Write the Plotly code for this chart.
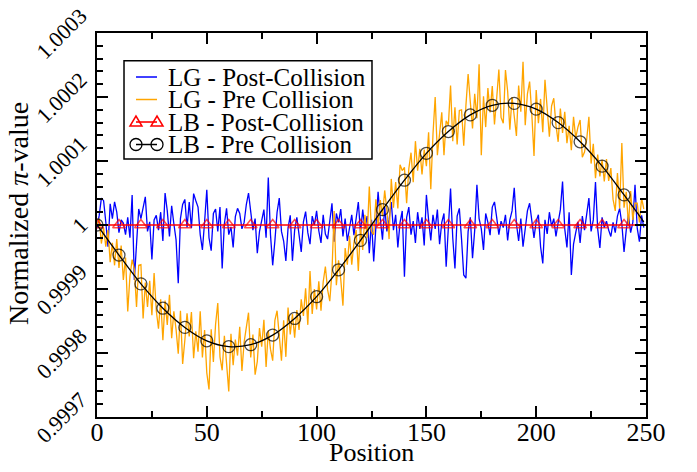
import plotly.graph_objects as go

# ---------------- data ----------------
POSITIONS = list(range(250))

LG_POST = [
    0.999995, 1.000015, 1.000042, 1.000038, 1.000005, 0.999966, 1.000033, 1.000010, 1.000036, 1.000020,
    0.999988, 1.000008, 1.000003, 0.999985, 1.000012, 0.999980, 1.000047, 0.999914, 0.999970, 1.000025,
    1.000010, 1.000028, 1.000044, 0.999990, 1.000005, 0.999946, 1.000008, 1.000015, 0.999992, 1.000020,
    0.999975, 1.000050, 1.000022, 0.999982, 1.000030, 1.000002, 0.999977, 0.999909, 1.000010, 1.000032,
    1.000040, 0.999996, 1.000036, 0.999995, 1.000049, 1.000038, 1.000028, 0.999985, 0.999961, 1.000005,
    1.000055, 0.999980, 0.999960, 1.000018, 1.000025, 0.999990, 1.000028, 0.999932, 1.000002, 1.000026,
    0.999985, 0.999997, 0.999965, 1.000013, 1.000026, 1.000018, 0.999994, 1.000004, 1.000032, 1.000050,
    1.000021, 0.999992, 1.000010, 0.999956, 0.999990, 1.000006, 1.000024, 0.999980, 1.000074, 0.999985,
    0.999937, 0.999975, 1.000020, 1.000042, 0.999990, 0.999975, 0.999944, 0.999995, 1.000015, 0.999944,
    0.999992, 1.000012, 0.999982, 0.999958, 1.000005, 1.000021, 0.999988, 0.999970, 1.000014, 1.000000,
    1.000022, 0.999991, 0.999972, 1.000016, 0.999986, 0.999978, 1.000006, 1.000034, 0.999974, 1.000018,
    1.000004, 1.000025, 0.999982, 1.000010, 0.999975, 0.999995, 1.000016, 0.999984, 1.000008, 1.000036,
    0.999988, 1.000024, 0.999994, 1.000014, 0.999956, 1.000008, 0.999943, 1.000005, 1.000052, 1.000010,
    0.999977, 1.000028, 0.999990, 1.000008, 1.000036, 0.999992, 1.000016, 0.999965, 1.000004, 1.000022,
    0.999919, 1.000012, 1.000028, 0.999985, 1.000006, 0.999972, 1.000020, 0.999994, 1.000012, 0.999968,
    1.000047, 1.000008, 0.999976, 1.000016, 0.999994, 1.000024, 0.999970, 1.000004, 1.000018, 0.999935,
    1.000006, 1.000057, 0.999980, 0.999932, 1.000014, 1.000026, 0.999978, 0.999922, 0.999917, 0.999990,
    1.000012, 0.999948, 0.999992, 1.000063, 1.000010, 0.999994, 0.999961, 1.000018, 1.000004, 0.999984,
    1.000028, 1.000036, 1.000012, 0.999985, 1.000006, 0.999996, 1.000016, 0.999976, 1.000008, 1.000022,
    1.000058, 1.000002, 0.999975, 1.000010, 0.999966, 0.999990, 1.000022, 1.000034, 1.000010, 0.999980,
    1.000006, 1.000016, 0.999966, 0.999940, 1.000008, 0.999986, 1.000020, 0.999998, 1.000010, 0.999982,
    1.000004, 1.000024, 1.000068, 0.999994, 0.999965, 1.000020, 0.999922, 0.999970, 0.999988, 1.000005,
    0.999972, 1.000014, 0.999992, 1.000020, 1.000042, 0.999990, 1.000008, 1.000067, 0.999994, 0.999964,
    1.000012, 0.999996, 1.000006, 0.999992, 0.999982, 1.000004, 0.999988, 1.000014, 1.000026, 1.000002,
    0.999958, 0.999992, 1.000016, 0.999988, 1.000004, 1.000063, 0.999995, 0.999974, 1.000015, 0.999996,
]

LG_PRE = [
    1.000000, 1.000010, 0.999971, 0.999996, 0.999966, 0.999992, 0.999942, 0.999972, 0.999937, 0.999978,
    0.999933, 0.999968, 0.999914, 0.999949, 0.999865, 0.999920, 0.999946, 0.999931, 0.999872, 0.999937,
    0.999938, 0.999854, 0.999910, 0.999872, 0.999913, 0.999859, 0.999925, 0.999866, 0.999838, 0.999884,
    0.999820, 0.999882, 0.999844, 0.999891, 0.999823, 0.999865, 0.999837, 0.999799, 0.999866, 0.999783,
    0.999820, 0.999862, 0.999826, 0.999864, 0.999792, 0.999834, 0.999802, 0.999865, 0.999793, 0.999836,
    0.999769, 0.999743, 0.999837, 0.999786, 0.999845, 0.999878, 0.999794, 0.999773, 0.999827, 0.999781,
    0.999740, 0.999830, 0.999781, 0.999821, 0.999796, 0.999841, 0.999772, 0.999817, 0.999837, 0.999863,
    0.999793, 0.999829, 0.999766, 0.999787, 0.999839, 0.999810, 0.999852, 0.999778, 0.999835, 0.999806,
    0.999788, 0.999851, 0.999866, 0.999826, 0.999788, 0.999851, 0.999794, 0.999871, 0.999829, 0.999861,
    0.999824, 0.999867, 0.999836, 0.999884, 0.999858, 0.999901, 0.999844, 0.999928, 0.999861, 0.999900,
    0.999868, 0.999912, 0.999866, 0.999911, 0.999935, 0.999899, 0.999881, 0.999927, 1.000022, 0.999906,
    0.999945, 0.999915, 0.999874, 0.999964, 0.999938, 0.999983, 0.999938, 0.999972, 0.999992, 0.999928,
    0.999996, 0.999961, 1.000016, 0.999980, 1.000060, 0.999990, 0.999985, 1.000040, 0.999999, 1.000039,
    1.000014, 1.000054, 1.000023, 0.999978, 1.000072, 1.000027, 1.000067, 1.000026, 1.000094, 1.000085,
    1.000090, 1.000034, 1.000088, 1.000113, 1.000067, 1.000131, 1.000085, 1.000119, 1.000079, 1.000118,
    1.000092, 1.000145, 1.000056, 1.000142, 1.000200, 1.000109, 1.000145, 1.000176, 1.000109, 1.000163,
    1.000156, 1.000218, 1.000131, 1.000184, 1.000126, 1.000179, 1.000180, 1.000124, 1.000187, 1.000236,
    1.000192, 1.000151, 1.000205, 1.000167, 1.000251, 1.000109, 1.000201, 1.000153, 1.000214, 1.000176,
    1.000217, 1.000157, 1.000198, 1.000243, 1.000168, 1.000159, 1.000242, 1.000209, 1.000149, 1.000200,
    1.000170, 1.000139, 1.000218, 1.000177, 1.000255, 1.000156, 1.000205, 1.000224, 1.000173, 1.000108,
    1.000211, 1.000159, 1.000197, 1.000145, 1.000227, 1.000181, 1.000138, 1.000186, 1.000198, 1.000156,
    1.000130, 1.000182, 1.000144, 1.000177, 1.000128, 1.000155, 1.000117, 1.000169, 1.000136, 1.000153,
    1.000164, 1.000106, 1.000114, 1.000134, 1.000169, 1.000096, 1.000127, 1.000073, 1.000110, 1.000076,
    1.000102, 1.000068, 1.000103, 1.000069, 1.000089, 1.000040, 1.000022, 1.000081, 1.000026, 1.000128,
    1.000027, 1.000052, 1.000000, 1.000053, 1.000008, 1.000034, 1.000034, 1.000004, 1.000042, 1.000025,
]

LB_X = [0, 10, 20, 30, 40, 50, 60, 70, 80, 90, 100, 110, 120, 130, 140, 150, 160, 170,
        180, 190, 200, 210, 220, 230, 240, 249]
LB_POST = [1.0] * 26
LB_PRE = [1.000000, 0.999953, 0.999908, 0.999870, 0.999840, 0.999819, 0.999810, 0.999813,
          0.999828, 0.999854, 0.999888, 0.999930, 0.999976, 1.000024, 1.000070, 1.000112,
          1.000146, 1.000172, 1.000187, 1.000190, 1.000181, 1.000160, 1.000130, 1.000092,
          1.000047, 1.000005]

X_TICKS = [0, 50, 100, 150, 200, 250]
Y_TICKS = [0.9997, 0.9998, 0.9999, 1.0, 1.0001, 1.0002, 1.0003]
Y_TICK_TEXT = ["0.9997", "0.9998", "0.9999", "1", "1.0001", "1.0002", "1.0003"]

SERIES_NAMES = ["LG - Post-Collision", "LG - Pre Collision", "LB - Post-Collision", "LB - Pre Collision"]
COLORS = ["#0000ff", "#ffa500", "#ff0000", "#000000"]

FONT = "Liberation Serif, Times New Roman, serif"

# ---------------- figure ----------------
fig = go.Figure()

fig.add_trace(go.Scatter(x=POSITIONS, y=LG_POST, mode="lines", name=SERIES_NAMES[0],
                         line=dict(color=COLORS[0], width=1.3), showlegend=False))
fig.add_trace(go.Scatter(x=POSITIONS, y=LG_PRE, mode="lines", name=SERIES_NAMES[1],
                         line=dict(color=COLORS[1], width=1.3), showlegend=False))

marker_sizes_tri = [11] * (len(LB_X) - 1) + [0]
marker_sizes_circ = [12] * (len(LB_X) - 1) + [0]

fig.add_trace(go.Scatter(x=LB_X, y=LB_POST, mode="lines+markers", name=SERIES_NAMES[2],
                         line=dict(color=COLORS[2], width=1.6),
                         marker=dict(symbol="triangle-up-open", size=marker_sizes_tri,
                                     color=COLORS[2], line=dict(width=1.5, color=COLORS[2])),
                         showlegend=False))
fig.add_trace(go.Scatter(x=LB_X, y=LB_PRE, mode="lines+markers", name=SERIES_NAMES[3],
                         line=dict(color=COLORS[3], width=1.3, shape="spline"),
                         marker=dict(symbol="circle-open", size=marker_sizes_circ,
                                     color=COLORS[3], line=dict(width=1.3, color=COLORS[3])),
                         showlegend=False))

axis_common = dict(
    showline=True, linecolor="black", linewidth=2, mirror="ticks",
    ticks="inside", ticklen=11, tickwidth=1.5, tickcolor="black",
    showgrid=False, zeroline=False,
)

fig.update_xaxes(range=[0, 250], tickvals=X_TICKS,
                 tickfont=dict(family=FONT, size=26, color="black"),
                 ticklabelstandoff=-9,
                 minor=dict(dtick=25, tick0=0, ticks="inside", ticklen=6, tickwidth=1.5,
                            tickcolor="black", showgrid=False),
                 **axis_common)
fig.update_yaxes(range=[0.9997, 1.0003], tickvals=Y_TICKS, showticklabels=False,
                 minor=dict(dtick=0.00002, tick0=0.9997, ticks="inside", ticklen=6, tickwidth=1.5,
                            tickcolor="black", showgrid=False),
                 **axis_common)

annotations = []
# rotated y tick labels
for v, t in zip(Y_TICKS, Y_TICK_TEXT):
    annotations.append(dict(x=-0.004, xref="paper", y=v, yref="y", text=t, showarrow=False,
                            textangle=-45, xanchor="right", yanchor="middle",
                            font=dict(family=FONT, size=22, color="black")))
# axis titles
annotations.append(dict(x=0.5, xref="paper", y=-0.093, yref="paper", text="Position",
                        showarrow=False, xanchor="center", yanchor="middle",
                        font=dict(family=FONT, size=26, color="black")))
annotations.append(dict(x=-0.143, xref="paper", y=0.53, yref="paper", text="Normalized <i>π</i>-value",
                        showarrow=False, textangle=-90, xanchor="center", yanchor="middle",
                        font=dict(family=FONT, size=28, color="black")))

# manual legend
row_y = [0.8854, 0.8268, 0.7682, 0.7096]
lx0, lx1 = 0.0710, 0.1093
shapes = [dict(type="rect", xref="paper", yref="paper", x0=0.0492, x1=0.5009, y0=0.6719, y1=0.9279,
               line=dict(color="black", width=1.5), fillcolor="white", layer="above")]
for i, (name, col) in enumerate(zip(SERIES_NAMES, COLORS)):
    shapes.append(dict(type="line", xref="paper", yref="paper", x0=lx0, x1=lx1, y0=row_y[i], y1=row_y[i],
                       line=dict(color=col, width=1.5 if i != 2 else 1.6), layer="above"))
    annotations.append(dict(x=0.126, xref="paper", y=row_y[i], yref="paper", text=name, showarrow=False,
                            xanchor="left", yanchor="middle",
                            font=dict(family=FONT, size=25, color="black")))
for xa in (lx0, lx1):
    shapes.append(dict(type="path", xref="paper", yref="paper", xsizemode="pixel", ysizemode="pixel",
                       xanchor=xa, yanchor=row_y[2], path="M -6 -4 L 6 -4 L 0 6 Z",
                       line=dict(color=COLORS[2], width=1.5), fillcolor="rgba(0,0,0,0)", layer="above"))
    shapes.append(dict(type="circle", xref="paper", yref="paper", xsizemode="pixel", ysizemode="pixel",
                       xanchor=xa, yanchor=row_y[3], x0=-6, x1=6, y0=-6, y1=6,
                       line=dict(color=COLORS[3], width=1.3), fillcolor="rgba(0,0,0,0)", layer="above"))

fig.update_layout(
    width=697, height=472,
    margin=dict(l=97, r=51, t=33, b=55),
    paper_bgcolor="white", plot_bgcolor="white",
    showlegend=False,
    annotations=annotations,
    shapes=shapes,
)

fig.write_html("out.html")
